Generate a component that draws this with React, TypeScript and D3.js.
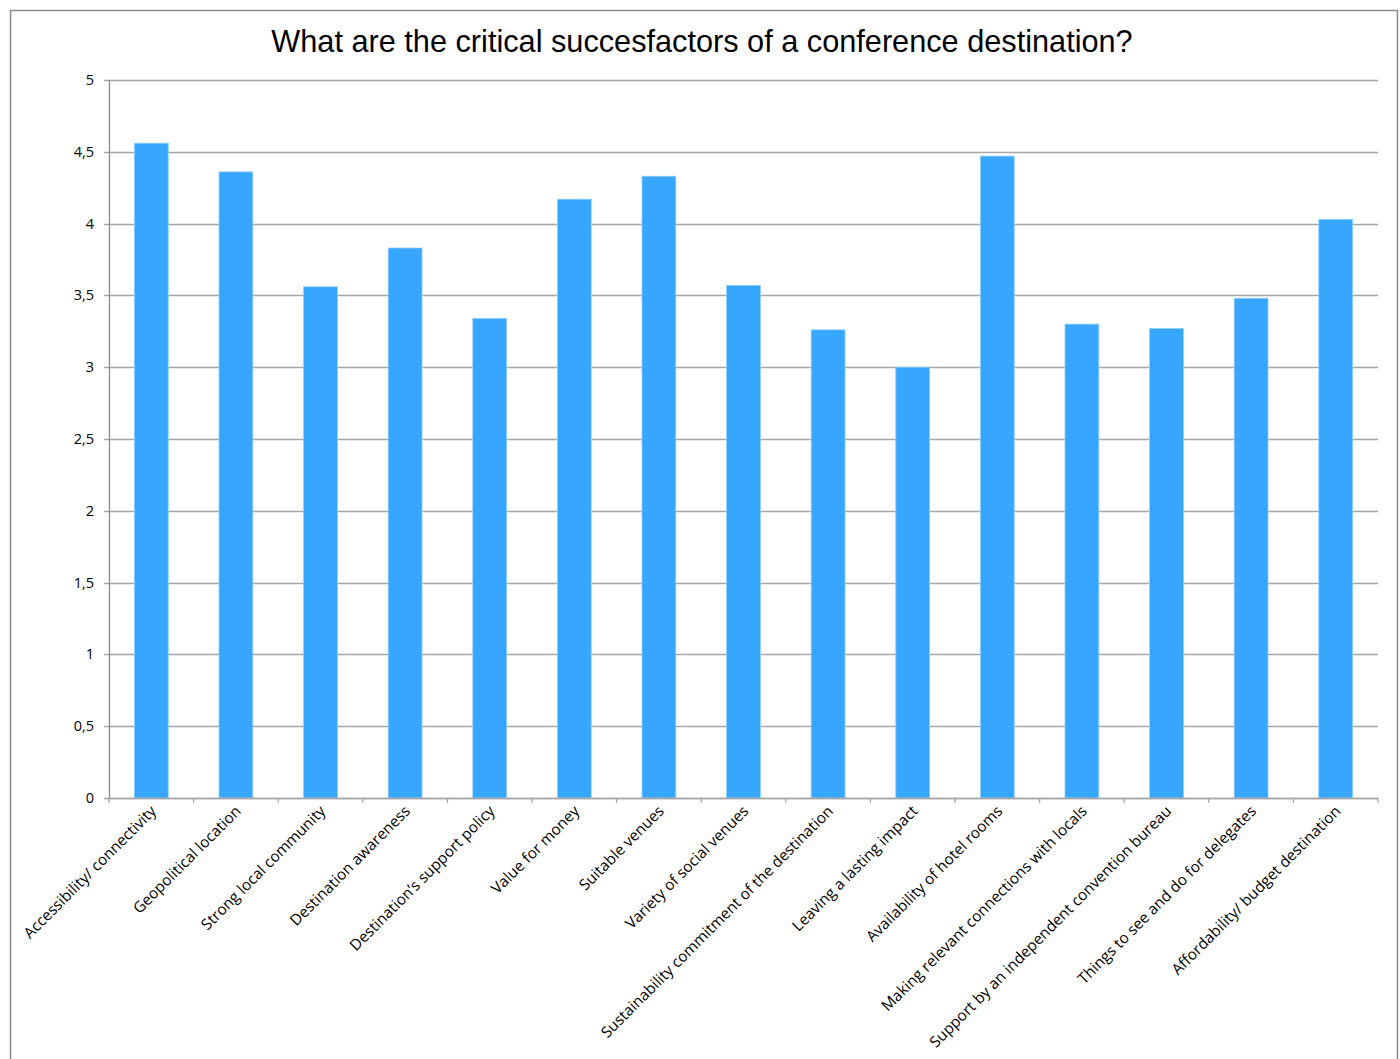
import React from "react";
import * as d3 from "d3";

const categories = [
  "Accessibility/ connectivity",
  "Geopolitical location",
  "Strong local community",
  "Destination awareness",
  "Destination’s support policy",
  "Value for money",
  "Suitable venues",
  "Variety of social venues",
  "Sustainability commitment of the destination",
  "Leaving a lasting impact",
  "Availability of hotel rooms",
  "Making relevant connections with locals",
  "Support by an independent convention bureau",
  "Things to see and do for delegates",
  "Affordability/ budget destination",
];
const values = [4.56, 4.36, 3.56, 3.83, 3.34, 4.17, 4.33, 3.57, 3.26, 3.0, 4.47, 3.3, 3.27, 3.48, 4.03];
const yTicks = [0, 0.5, 1, 1.5, 2, 2.5, 3, 3.5, 4, 4.5, 5];
const title = "What are the critical succesfactors of a conference destination?";

export default function App() {
  const W = 1400, H = 1059;
  const left = 109, right = 1378, top = 80, bottom = 798;
  const x = d3.scaleBand<string>().domain(categories).range([left, right]).paddingInner(0.6).paddingOuter(0.3);
  const band = d3.scaleBand<string>().domain(categories).range([left, right]).padding(0);
  const y = d3.scaleLinear().domain([0, 5]).range([bottom, top]);
  const fmt = (v: number) => String(v).replace(".", ",");
  const font = "'Open Sans', 'Liberation Sans', sans-serif";
  return (
    <svg width={W} height={H} style={{ position: "absolute", left: 0, top: 0, background: "#fff" }}>
      <rect x={10.5} y={10.5} width={1387} height={1080} fill="#fff" stroke="#8a8a8a" strokeWidth={1.5} />
      <text x={702} y={52} textAnchor="middle" fontFamily="'Liberation Sans', Arial, sans-serif" fontSize={30.7} fill="#000">
        {title}
      </text>
      {yTicks.map((t) => (
        <g key={t}>
          <line x1={104} x2={right} y1={Math.round(y(t)) + 0.5} y2={Math.round(y(t)) + 0.5} stroke="#a6a6a6" strokeWidth={1.3} />
          <text x={94} y={y(t)} dy="0.35em" textAnchor="end" fontFamily={font} fontSize={14.5} fill="#000">
            {fmt(t)}
          </text>
        </g>
      ))}
      {categories.map((c, i) => (
        <rect key={c} x={x(c)} y={y(values[i])} width={x.bandwidth()} height={bottom - y(values[i])} fill="#36a6ff" stroke="#8fcfff" strokeWidth={0.8} />
      ))}
      <line x1={left + 0.5} x2={left + 0.5} y1={top} y2={bottom} stroke="#8c8c8c" strokeWidth={1.3} />
      <line x1={left} x2={right} y1={bottom + 0.5} y2={bottom + 0.5} stroke="#a6a6a6" strokeWidth={1.5} />
      {categories.map((c) => (
        <line key={"t" + c} x1={band(c)!} x2={band(c)!} y1={bottom} y2={bottom + 5} stroke="#a6a6a6" strokeWidth={1.3} />
      ))}
      <line x1={right} x2={right} y1={bottom} y2={bottom + 5} stroke="#a6a6a6" strokeWidth={1.3} />
      {categories.map((c) => {
        const cx = band(c)! + band.bandwidth() / 2 + 6;
        return (
          <text key={"l" + c} transform={`translate(${cx},${bottom + 14}) rotate(-45)`} textAnchor="end" fontFamily={font} fontSize={15.3} fill="#000">
            {c}
          </text>
        );
      })}
    </svg>
  );
}
